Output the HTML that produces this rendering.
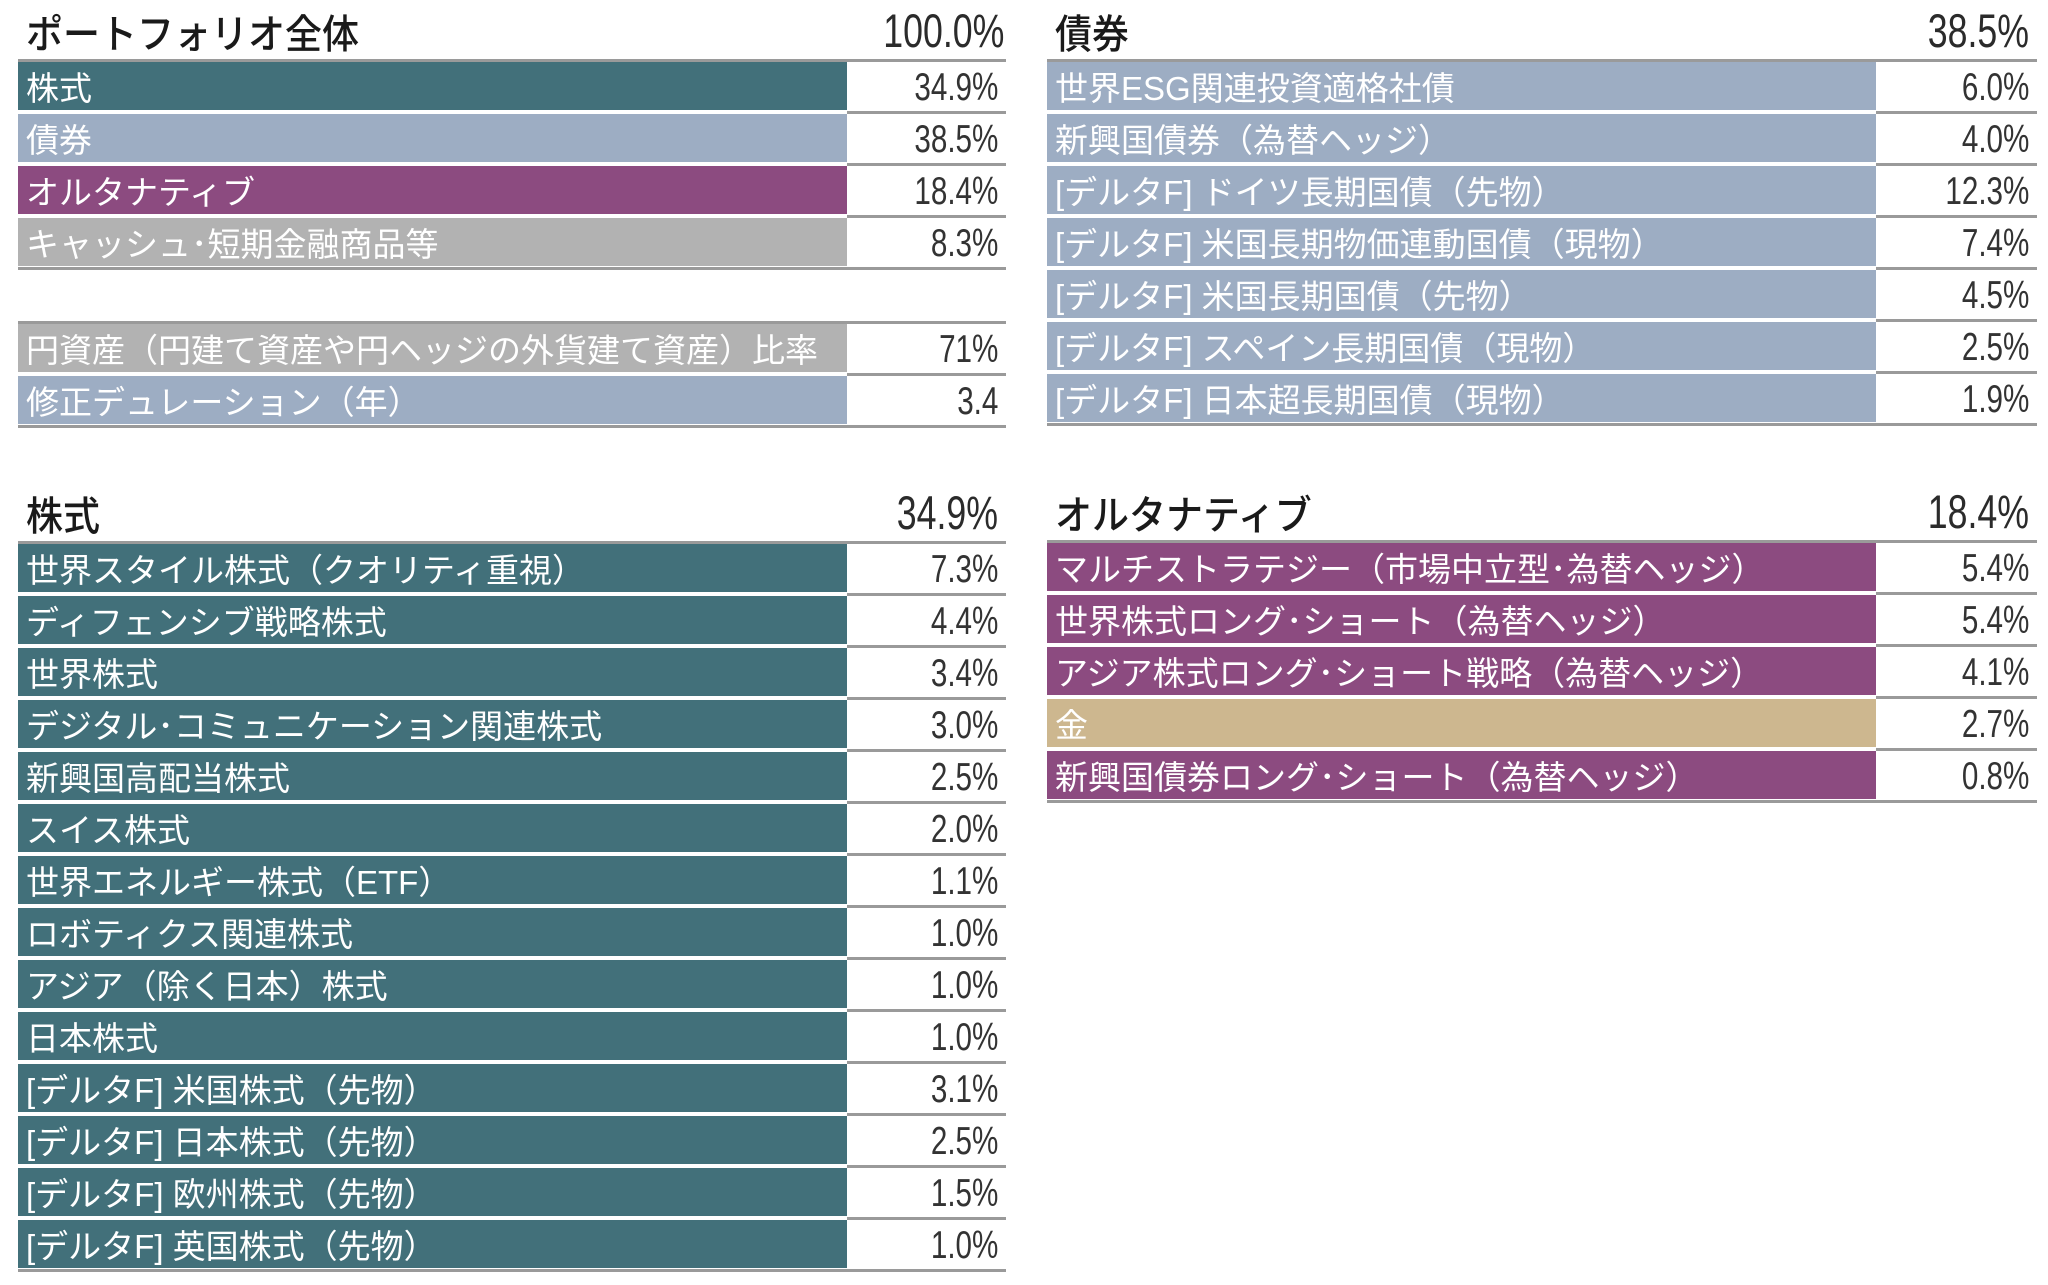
<!DOCTYPE html>
<html><head><meta charset="utf-8">
<style>
html,body{margin:0;padding:0;background:#fff;}
body{width:2048px;height:1285px;position:relative;overflow:hidden;font-family:"Liberation Sans","Noto Sans CJK JP",sans-serif;}
.hd{position:absolute;font-size:37px;color:#1a1a1a;white-space:nowrap;font-weight:500;font-family:"Liberation Sans","Noto Sans CJK JP",sans-serif;transform:scaleY(1.08);transform-origin:left bottom;}
.hv{position:absolute;font-size:47px;color:#2b2b2b;text-align:right;transform:scaleX(0.76);transform-origin:right center;font-family:"Liberation Sans",sans-serif;}
.line{position:absolute;height:3px;background:#9a9a9a;}
.lab{position:absolute;color:#fff;font-size:33px;white-space:nowrap;box-sizing:border-box;padding-left:8px;padding-top:4px;font-family:"Liberation Sans","Noto Sans CJK JP",sans-serif;overflow:hidden;}
.val{position:absolute;color:#333;font-size:39px;text-align:right;box-sizing:border-box;padding-right:10px;padding-top:3px;transform:scaleX(0.76);transform-origin:right center;font-family:"Liberation Sans",sans-serif;}
</style></head><body>
<div id="root"></div>
<script>
// table data
const overallLabels=["株式","債券","オルタナティブ","キャッシュ･短期金融商品等"];
const overallValues=["34.9%","38.5%","18.4%","8.3%"];
const overallColors=["teal","blue","purple","gray"];
const extraLabels=["円資産（円建て資産や円ヘッジの外貨建て資産）比率","修正デュレーション（年）"];
const extraValues=["71%","3.4"];
const extraColors=["gray","blue"];
const bondLabels=["世界ESG関連投資適格社債","新興国債券（為替ヘッジ）","[デルタF] ドイツ長期国債（先物）","[デルタF] 米国長期物価連動国債（現物）","[デルタF] 米国長期国債（先物）","[デルタF] スペイン長期国債（現物）","[デルタF] 日本超長期国債（現物）"];
const bondValues=["6.0%","4.0%","12.3%","7.4%","4.5%","2.5%","1.9%"];
const stockLabels=["世界スタイル株式（クオリティ重視）","ディフェンシブ戦略株式","世界株式","デジタル･コミュニケーション関連株式","新興国高配当株式","スイス株式","世界エネルギー株式（ETF）","ロボティクス関連株式","アジア（除く日本）株式","日本株式","[デルタF] 米国株式（先物）","[デルタF] 日本株式（先物）","[デルタF] 欧州株式（先物）","[デルタF] 英国株式（先物）"];
const stockValues=["7.3%","4.4%","3.4%","3.0%","2.5%","2.0%","1.1%","1.0%","1.0%","1.0%","3.1%","2.5%","1.5%","1.0%"];
const altLabels=["マルチストラテジー（市場中立型･為替ヘッジ）","世界株式ロング･ショート（為替ヘッジ）","アジア株式ロング･ショート戦略（為替ヘッジ）","金","新興国債券ロング･ショート（為替ヘッジ）"];
const altValues=["5.4%","5.4%","4.1%","2.7%","0.8%"];
const altColors=["purple","purple","purple","gold","purple"];

const COL={teal:"#42707a",blue:"#9dadc3",purple:"#8c4b80",gray:"#b2b2b2",gold:"#cdb78f"};
const root=document.getElementById('root');

function table(name,x0,xs,x1,lineY,title,total,labels,values,colors){
  if(title!==null){
    const h=document.createElement('div');h.className='hd';
    
    
    h.style.left=(x0+8)+'px';h.style.top=(lineY-54)+'px';h.textContent=title;root.appendChild(h);
    const hv=document.createElement('div');hv.className='hv';
    
    
    hv.style.left=xs+'px';hv.style.width=(x1-xs-8)+'px';hv.style.top=(lineY-57)+'px';hv.textContent=total;root.appendChild(hv);
  }
  const l=document.createElement('div');l.className='line';
  
  
  l.style.left=x0+'px';l.style.width=(x1-x0)+'px';l.style.top=(lineY-1)+'px';root.appendChild(l);
  for(let i=0;i<labels.length;i++){
    const top=lineY+2+i*52;
    const lab=document.createElement('div');lab.className='lab';
    
    
    lab.style.left=x0+'px';lab.style.width=(xs-x0)+'px';lab.style.top=top+'px';lab.style.height='48px';lab.style.lineHeight='45px';
    lab.style.background=COL[colors[i]];lab.textContent=labels[i];root.appendChild(lab);
    const v=document.createElement('div');v.className='val';
    
    
    v.style.left=xs+'px';v.style.width=(x1-xs)+'px';v.style.top=top+'px';v.style.height='48px';v.style.lineHeight='45px';
    v.textContent=values[i];root.appendChild(v);
    const r=document.createElement('div');r.className='line';
    
    
    const last=i===labels.length-1;
    r.style.left=(last?x0:xs)+'px';r.style.width=(last?x1-x0:x1-xs)+'px';r.style.top=(top+49)+'px';root.appendChild(r);
  }
}
const rep=(c,n)=>Array(n).fill(c);
table('overall-table',18,847,1006,60,'ポートフォリオ全体','100.0%',overallLabels,overallValues,overallColors);
table('yen-duration-table',18,847,1006,322,null,null,extraLabels,extraValues,extraColors);
table('bond-table',1047,1876,2037,60,'債券','38.5%',bondLabels,bondValues,rep('blue',bondLabels.length));
table('stock-table',18,847,1006,542,'株式','34.9%',stockLabels,stockValues,rep('teal',stockLabels.length));
table('alternative-table',1047,1876,2037,541,'オルタナティブ','18.4%',altLabels,altValues,altColors);
</script>
</body></html>
